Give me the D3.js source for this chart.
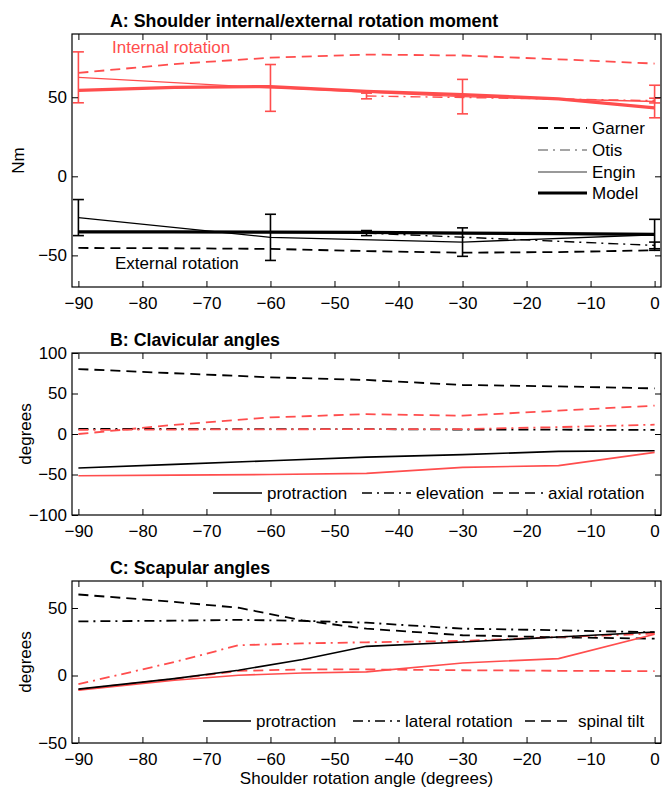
<!DOCTYPE html>
<html>
<head>
<meta charset="utf-8">
<script src="https://cdn.jsdelivr.net/npm/d3@7"></script>
<style>
  body { margin: 0; background: #fff; }
  svg { display: block; font-family: "Liberation Sans", Arial, sans-serif; }
  .tick text { font-size: 17px; fill: #000; }
  .title { font-size: 17.8px; font-weight: bold; }
  .label { font-size: 17px; }
</style>
</head>
<body>
<svg width="662" height="787"></svg>
<script>
const red = "#ff4d4d";

// panel A: shoulder moment (Nm)
const angleA   = [-90, -75, -60, -45, -30, -15, 0];
const garnerIn = [65.4, 71, 75, 77, 76.4, 74, 71.3];
const garnerEx = [-45.3, -45.5, -45.9, -47.3, -48.3, -47.9, -46.8];
const modelIn  = [54.4, 56.3, 56.8, 53.8, 51.7, 49, 43.3];
const modelEx  = [-35.2, -35.2, -35.3, -35.5, -35.9, -36.3, -36.7];

const angleEngin = [-90, -60, -30, 0];
const enginIn    = [62.6, 55.9, 50.4, 47.3];
const enginInErr = [16.1, 14.8, 10.9, 10.3];
const enginEx    = [-26.1, -38.6, -41.6, -37];
const enginExErr = [11.4, 14.6, 9, 9.8];

const angleOtis = [-45, 0];
const otisIn    = [50.8, 47.9];
const otisInErr = [1.8, 1.5];
const otisEx    = [-35.9, -43.7];
const otisExErr = [1.6, 2.1];

// panel B: clavicular angles (degrees)
const angleB     = [-90, -75, -60, -45, -30, -15, 0];
const clavAxial  = [80.2, 75, 70, 66.7, 60.5, 58.8, 56.3];
const clavAxialM = [0, 11.3, 20.5, 24.5, 22.6, 28.8, 35];
const clavElev   = [6.2, 6.2, 6, 6, 5.5, 5.3, 5];
const clavElevM  = [5, 5.5, 5.8, 6, 6, 8.5, 11.5];
const clavProt   = [-42, -37.5, -33, -28.5, -25.5, -21.5, -20.6];
const clavProtM  = [-51.5, -50.8, -50, -48.6, -41.2, -39, -22.7];

// panel C: scapular angles (degrees)
const angleC     = [-90, -75, -65, -55, -45, -30, -15, 0];
const scapTilt   = [60, 54.5, 50.2, 40.8, 34.7, 29.8, 28.3, 27.3];
const scapTiltM  = [-10.4, -2.5, 3.4, 4.5, 4.5, 3.9, 3.5, 3.2];
const scapLat    = [40.1, 40.6, 41.2, 40.5, 39.1, 34.7, 33.5, 32];
const scapLatM   = [-6.4, 10, 22.4, 23.8, 24.6, 25.6, 28.5, 31];
const scapProt   = [-10.1, -2.3, 3.9, 11.8, 21.6, 24.8, 28.5, 32.2];
const scapProtM  = [-10.9, -3.5, 0.2, 1.8, 2.7, 9.3, 12.5, 30.5];

const xTicks = [-90, -80, -70, -60, -50, -40, -30, -20, -10, 0];

const dash = "10,6";
const dashDot = "10,5,2,5";

const svg = d3.select("svg");
const left = 72, right = 661;

const x = d3.scaleLinear().domain([-91, 1]).range([left, right]);

function zip(xs, ys, es) {
  return xs.map((v, i) => ({x: v, y: ys[i], e: es ? es[i] : 0}));
}

function drawPanel(p) {
  const y = d3.scaleLinear().domain(p.domain).range([p.bottom, p.top]);
  const g = svg.append("g");

  const line = d3.line().x(d => x(d.x)).y(d => y(d.y));

  p.series.forEach(function(s) {
    const pts = zip(s.xs, s.ys, s.err);
    g.append("path")
      .datum(pts)
      .attr("d", line)
      .attr("fill", "none")
      .attr("stroke", s.color)
      .attr("stroke-width", s.width)
      .attr("stroke-dasharray", s.dash || null);

    if (s.err) {
      const eb = g.append("g").attr("stroke", s.color).attr("stroke-width", 1.6);
      pts.forEach(function(d) {
        const x0 = x(d.x), y1 = y(d.y + d.e), y2 = y(d.y - d.e);
        eb.append("line").attr("x1", x0).attr("x2", x0).attr("y1", y1).attr("y2", y2);
        eb.append("line").attr("x1", x0 - 5.5).attr("x2", x0 + 5.5).attr("y1", y1).attr("y2", y1);
        eb.append("line").attr("x1", x0 - 5.5).attr("x2", x0 + 5.5).attr("y1", y2).attr("y2", y2);
      });
    }
  });

  // axes: ticks inward on all four sides
  const axes = [
    [d3.axisBottom(x).tickValues(xTicks), `translate(0,${p.bottom})`, true],
    [d3.axisTop(x).tickValues(xTicks), `translate(0,${p.top})`, false],
    [d3.axisLeft(y).tickValues(p.ticks), `translate(${left},0)`, true],
    [d3.axisRight(y).tickValues(p.ticks), `translate(${right},0)`, false]
  ];
  axes.forEach(function(a, i) {
    const ax = g.append("g")
      .attr("transform", a[1])
      .call(a[0].tickSizeInner(-6).tickSizeOuter(0).tickPadding(i === 2 ? 5 : 10));
    ax.select(".domain").remove();
    ax.selectAll(".tick line").attr("stroke", "#000");
    ax.selectAll(".tick text").attr("font-family", null).attr("font-size", null);
    if (!a[2]) ax.selectAll(".tick text").remove();
  });

  g.append("rect")
    .attr("x", left).attr("y", p.top)
    .attr("width", right - left).attr("height", p.bottom - p.top)
    .attr("fill", "none").attr("stroke", "#000").attr("stroke-width", 1.2);

  g.append("text")
    .attr("class", "title")
    .attr("x", 110).attr("y", p.top - 7)
    .text(p.title);

  g.append("text")
    .attr("class", "label")
    .attr("transform", `translate(${p.ylabelX},${(p.top + p.bottom) / 2}) rotate(-90)`)
    .attr("text-anchor", "middle")
    .attr("dy", "0.35em")
    .text(p.ylabel);

  return {g: g, y: y};
}

function legendItem(g, x1, x2, ly, style, label) {
  g.append("line")
    .attr("x1", x1).attr("x2", x2).attr("y1", ly).attr("y2", ly)
    .attr("stroke", style.color).attr("stroke-width", style.width)
    .attr("stroke-dasharray", style.dash || null);
  g.append("text")
    .attr("class", "label")
    .attr("x", x2 + 5).attr("y", ly).attr("dy", "0.35em")
    .text(label);
}

// ---- panel A
const a = drawPanel({
  top: 34, bottom: 287, domain: [-70, 90], ticks: [-50, 0, 50],
  title: "A: Shoulder internal/external rotation moment",
  ylabel: "Nm", ylabelX: 18,
  series: [
    {xs: angleA, ys: garnerIn, color: red, width: 1.8, dash: dash},
    {xs: angleA, ys: garnerEx, color: "#000", width: 1.8, dash: dash},
    {xs: angleOtis, ys: otisIn, err: otisInErr, color: red, width: 1.4, dash: dashDot},
    {xs: angleOtis, ys: otisEx, err: otisExErr, color: "#000", width: 1.4, dash: dashDot},
    {xs: angleEngin, ys: enginIn, err: enginInErr, color: red, width: 1.4},
    {xs: angleEngin, ys: enginEx, err: enginExErr, color: "#000", width: 1.4},
    {xs: angleA, ys: modelIn, color: red, width: 3.2},
    {xs: angleA, ys: modelEx, color: "#000", width: 3.2}
  ]
});

a.g.append("text").attr("class", "label").attr("x", 112).attr("y", 53)
  .attr("fill", red).text("Internal rotation");
a.g.append("text").attr("class", "label").attr("x", 115).attr("y", 269)
  .text("External rotation");

legendItem(a.g, 538, 587, 128, {color: "#000", width: 1.8, dash: dash}, "Garner");
legendItem(a.g, 538, 587, 150, {color: "#888", width: 1.4, dash: dashDot}, "Otis");
legendItem(a.g, 538, 587, 172, {color: "#777", width: 1.4}, "Engin");
legendItem(a.g, 538, 587, 193, {color: "#000", width: 3.2}, "Model");

// ---- panel B
const b = drawPanel({
  top: 353, bottom: 515, domain: [-100, 100], ticks: [-100, -50, 0, 50, 100],
  title: "B: Clavicular angles",
  ylabel: "degrees", ylabelX: 25,
  series: [
    {xs: angleB, ys: clavAxial, color: "#000", width: 1.8, dash: dash},
    {xs: angleB, ys: clavAxialM, color: red, width: 1.8, dash: dash},
    {xs: angleB, ys: clavElev, color: "#000", width: 1.8, dash: dashDot},
    {xs: angleB, ys: clavElevM, color: red, width: 1.8, dash: dashDot},
    {xs: angleB, ys: clavProt, color: "#000", width: 1.6},
    {xs: angleB, ys: clavProtM, color: red, width: 1.6}
  ]
});

legendItem(b.g, 213, 262, 493, {color: "#000", width: 1.6}, "protraction");
legendItem(b.g, 362, 411, 493, {color: "#000", width: 1.6, dash: dashDot}, "elevation");
legendItem(b.g, 493, 543, 493, {color: "#000", width: 1.6, dash: dash}, "axial rotation");

// ---- panel C
const c = drawPanel({
  top: 581, bottom: 743, domain: [-50, 70], ticks: [-50, 0, 50],
  title: "C: Scapular angles",
  ylabel: "degrees", ylabelX: 25,
  series: [
    {xs: angleC, ys: scapTilt, color: "#000", width: 1.8, dash: dash},
    {xs: angleC, ys: scapTiltM, color: red, width: 1.8, dash: dash},
    {xs: angleC, ys: scapLat, color: "#000", width: 1.8, dash: dashDot},
    {xs: angleC, ys: scapLatM, color: red, width: 1.8, dash: dashDot},
    {xs: angleC, ys: scapProtM, color: red, width: 1.6},
    {xs: angleC, ys: scapProt, color: "#000", width: 1.6}
  ]
});

legendItem(c.g, 203, 251, 721, {color: "#000", width: 1.6}, "protraction");
legendItem(c.g, 353, 400, 721, {color: "#000", width: 1.6, dash: dashDot}, "lateral rotation");
legendItem(c.g, 525, 573, 721, {color: "#000", width: 1.6, dash: dash}, "spinal tilt");

svg.append("text")
  .attr("class", "label")
  .attr("x", (left + right) / 2).attr("y", 784)
  .attr("text-anchor", "middle")
  .text("Shoulder rotation angle (degrees)");
</script>
</body>
</html>
